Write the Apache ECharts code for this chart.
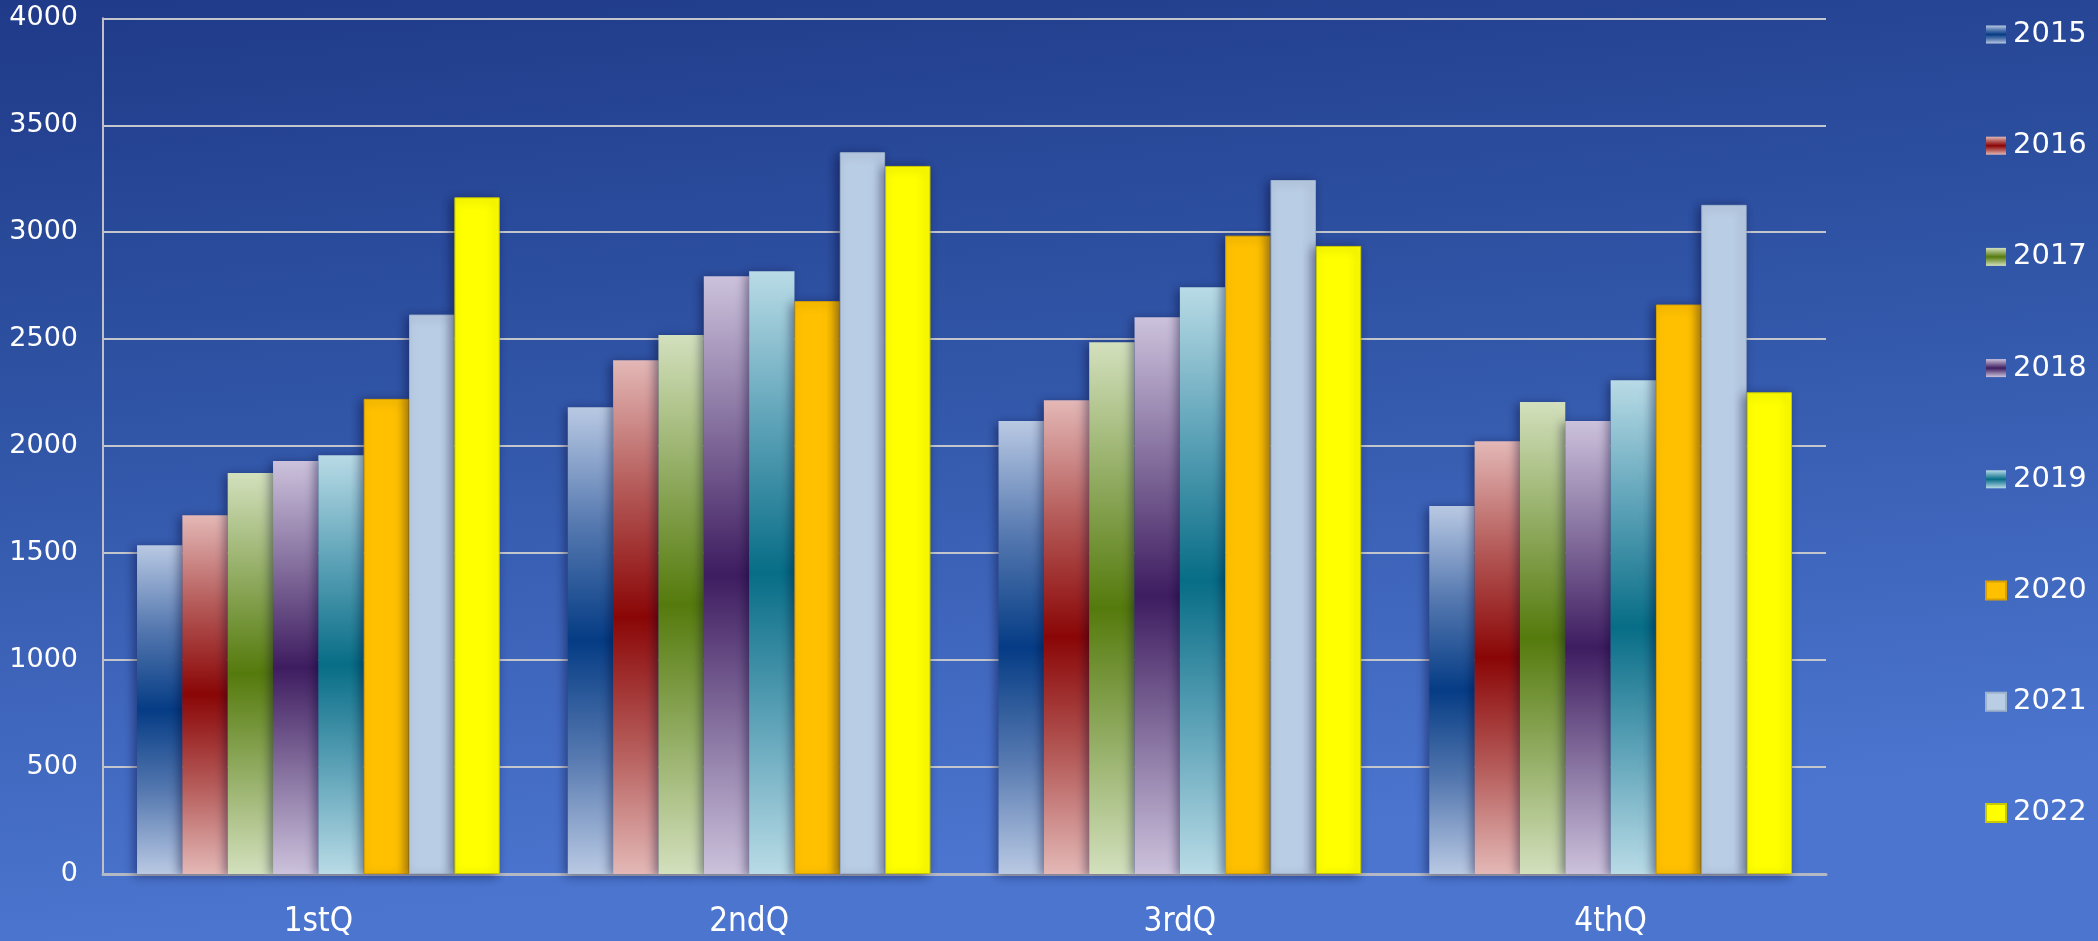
<!DOCTYPE html>
<html>
<head>
<meta charset="utf-8">
<script src="https://cdn.jsdelivr.net/npm/echarts@6/dist/echarts.min.js"></script>
<style>
html,body{margin:0;padding:0;background:#2f54a8;}
#chart{width:2098px;height:941px;}
</style>
</head>
<body>
<div id="chart"></div>
<script>
const categories = ['1stQ', '2ndQ', '3rdQ', '4thQ'];
const seriesNames = ['2015', '2016', '2017', '2018', '2019', '2020', '2021', '2022'];
const v2015 = [1537, 2182, 2117, 1720];
const v2016 = [1677, 2402, 2215, 2023];
const v2017 = [1874, 2519, 2486, 2206];
const v2018 = [1930, 2794, 2603, 2117];
const v2019 = [1958, 2818, 2743, 2308];
const v2020 = [2221, 2678, 2984, 2662];
const v2021 = [2615, 3374, 3244, 3128];
const v2022 = [3163, 3310, 2936, 2252];
const yTicks = [0, 500, 1000, 1500, 2000, 2500, 3000, 3500, 4000];

const values = [v2015, v2016, v2017, v2018, v2019, v2020, v2021, v2022];

function grad(light, mid, dark) {
  return {
    type: 'linear', x: 0, y: 0, x2: 0, y2: 1,
    colorStops: [
      {offset: 0, color: light},
      {offset: 0.25, color: mid},
      {offset: 0.5, color: dark},
      {offset: 0.75, color: mid},
      {offset: 1, color: light}
    ]
  };
}
const fills = [
  grad('#b9c9e3', '#5679b0', '#053c85'),
  grad('#e3b8b6', '#b45a58', '#8a0606'),
  grad('#d3e0bd', '#93ad64', '#557a0c'),
  grad('#ccc2dc', '#85709e', '#3e1c60'),
  grad('#b9dbe6', '#5ea3b8', '#076d86'),
  '#ffc000',
  '#b9cde5',
  '#ffff00'
];
const borders = [null, null, null, null, null, '#d9a000', '#9fb3cc', '#c8c800'];

const chart = echarts.init(document.getElementById('chart'), null, {renderer: 'canvas'});
const series = seriesNames.map((name, i) => ({
  name: name,
  type: 'bar',
  data: values[i],
  barGap: '0%',
  barCategoryGap: '15.8%',
  itemStyle: {
    color: fills[i],
    borderColor: borders[i] || 'transparent',
    borderWidth: borders[i] ? 1 : 0,
    shadowColor: 'rgba(0,0,40,0.45)',
    shadowBlur: 10,
    shadowOffsetX: -3,
    shadowOffsetY: 2
  },
  emphasis: {disabled: true}
}));

chart.setOption({
  backgroundColor: {
    type: 'linear', x: 0, y: 0, x2: 0.04, y2: 1,
    colorStops: [
      {offset: 0, color: '#1f3a88'},
      {offset: 0.5, color: '#3257a9'},
      {offset: 1, color: '#4b75cf'}
    ]
  },
  animation: false,
  grid: {left: 103, right: 272, top: 18.3, bottom: 67, containLabel: false},
  legend: {
    orient: 'vertical',
    left: 1980,
    top: 15,
    icon: 'rect',
    itemWidth: 20,
    itemHeight: 18,
    itemGap: 82.2,
    data: seriesNames,
    textStyle: {color: '#ffffff', fontSize: 29, fontFamily: 'DejaVu Sans', lineHeight: 28, padding: [0, 0, 0, 2]},
    selectedMode: false
  },
  xAxis: {
    type: 'category',
    data: categories,
    axisLine: {show: true, lineStyle: {color: '#b4b8c4', width: 3}},
    axisTick: {show: false},
    axisLabel: {color: '#ffffff', fontSize: 33, fontFamily: 'DejaVu Sans Condensed, DejaVu Sans', margin: 32}
  },
  yAxis: {
    type: 'value',
    min: yTicks[0],
    max: yTicks[yTicks.length - 1],
    interval: 500,
    axisLine: {show: true, lineStyle: {color: '#c0c0c8', width: 2}},
    axisTick: {show: false},
    axisLabel: {color: '#ffffff', fontSize: 27, fontFamily: 'DejaVu Sans', margin: 25, formatter: v => String(v)},
    splitLine: {show: true, lineStyle: {color: '#c4c6ce', width: 2}}
  },
  series: series
});
</script>
</body>
</html>
